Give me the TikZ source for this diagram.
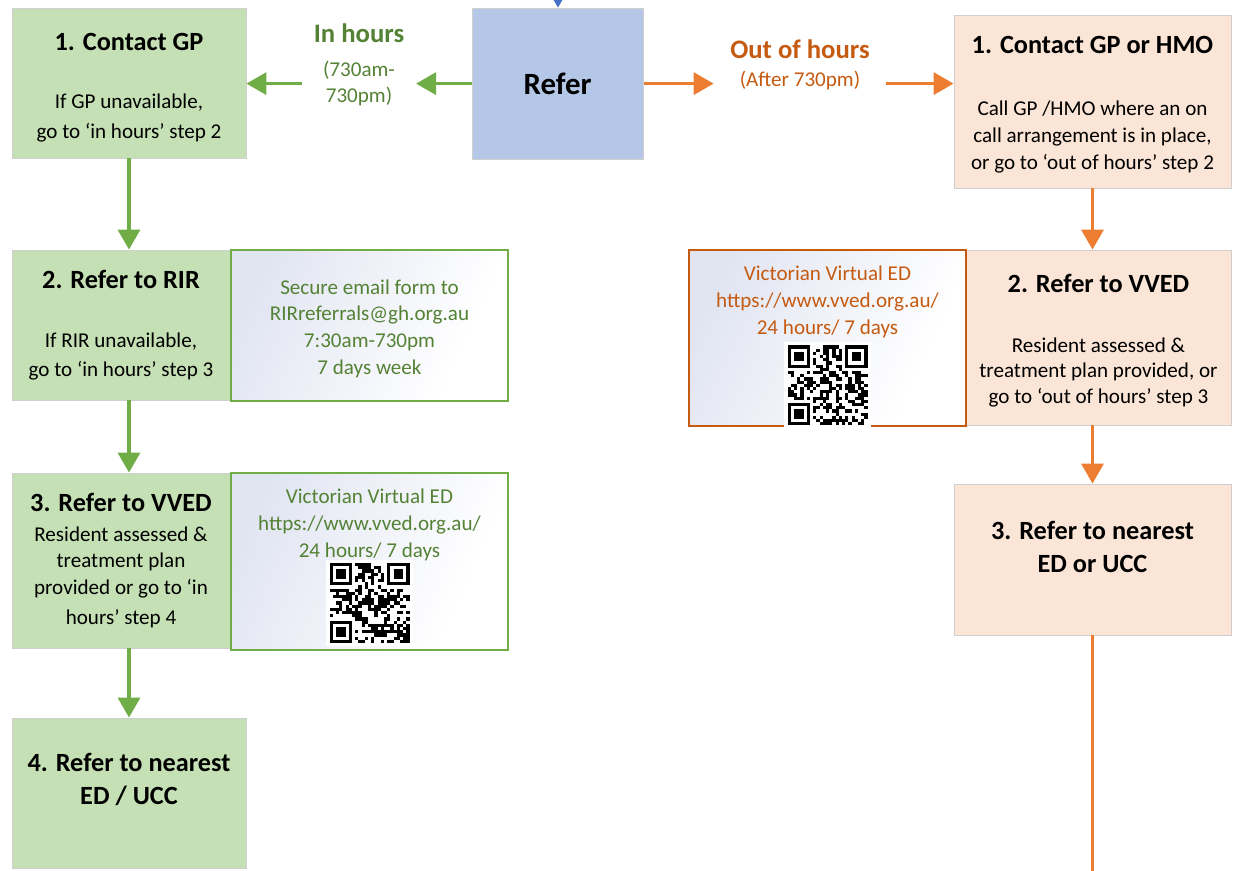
\documentclass[tikz,border=0pt]{standalone}
\usepackage{fontspec}
\setmainfont{Carlito}
\usetikzlibrary{positioning,arrows.meta}

\definecolor{greenfill}{HTML}{C5E0B4}
\definecolor{orangefill}{HTML}{FBE5D6}
\definecolor{bluefill}{HTML}{B4C7E7}
\definecolor{greenline}{HTML}{70AD47}
\definecolor{orangeline}{HTML}{ED7D31}
\definecolor{bluearrow}{HTML}{4472C4}
\definecolor{greentext}{HTML}{548235}
\definecolor{orangetext}{HTML}{C55A11}
\definecolor{boxline}{HTML}{D0CECE}
\definecolor{infoshade}{HTML}{E1E5F2}

\pgfdeclarehorizontalshading{infoshading}{100bp}{color(0bp)=(infoshade); color(25bp)=(infoshade); color(70bp)=(white); color(100bp)=(white)}

\newcommand{\bodyfont}{\fontsize{15}{19}\selectfont}
\newcommand{\headfont}{\fontsize{18.7}{22}\selectfont\bfseries}

% fake QR patch, #1 = centre coordinate, #2 = seed
\newcommand{\qrpatch}[2]{%
  \begin{scope}[shift={(#1)}, x=0.08cm, y=0.08cm, shift={(-12.5,-12.5)}]
    \fill[white] (-1,-1) rectangle (26,26);
    \pgfmathsetseed{#2}
    \foreach \qi in {0,...,24}{
      \foreach \qj in {0,...,24}{
        \pgfmathrandominteger{\qbit}{0}{1}
        \ifnum\qbit=1 \fill (\qi,\qj) rectangle ++(1,1); \fi
      }
    }
    % finder squares
    \foreach \cx/\cy/\sx/\sy in {0/18/0/17, 18/18/17/17, 0/0/0/0}{
      \fill[white] (\sx,\sy) rectangle ++(8,8);
      \fill (\cx,\cy) rectangle ++(7,7);
      \fill[white] (\cx+1,\cy+1) rectangle ++(5,5);
      \fill (\cx+2,\cy+2) rectangle ++(3,3);
    }
  \end{scope}}

\tikzset{
  flowbox/.style={draw=boxline, line width=0.6pt, align=center, inner sep=2pt, font=\bodyfont},
  gbox/.style={flowbox, fill=greenfill},
  obox/.style={flowbox, fill=orangefill},
  infobox/.style={line width=1.4pt, shading=infoshading, shading angle=-25, align=center, inner sep=0pt, font=\bodyfont},
  ginfo/.style={infobox, draw=greenline, text=greentext},
  oinfo/.style={infobox, draw=orangetext, text=orangetext},
  infotext/.style={align=center, inner sep=0pt, font=\bodyfont},
  flowarrow/.style={line width=2.4pt, -{Triangle[length=0.5cm, width=0.55cm]}},
  garrow/.style={flowarrow, draw=greenline},
  oarrow/.style={flowarrow, draw=orangeline},
}

\begin{document}
\begin{tikzpicture}
    \useasboundingbox (0,0) rectangle (31.05,-21.75);

    % Refer box and the arrow coming in from above
    \node[flowbox, fill=bluefill, minimum width=4.275cm, minimum height=3.775cm,
          font=\fontsize{22}{26}\selectfont\bfseries] (refer) at (13.94,-2.09) {Refer};
    \coordinate (topin) at (13.95,1);
    \draw[flowarrow, draw=bluearrow] (topin) -- (refer.north -| topin);

    % In hours column
    \node[gbox, minimum width=5.85cm, minimum height=3.75cm] (gp) at (3.225,-2.075)
        {\mbox{}\\[0pt] {\headfont 1. Contact GP}\\[22pt] If GP unavailable,\\[2.5pt] go to ‘in hours’ step 2};
    \node[gbox, minimum width=5.45cm, minimum height=3.75cm] (rir) at (3.025,-8.125)
        {{\headfont 2. Refer to RIR}\\[23.5pt] If RIR unavailable,\\[1.5pt] go to ‘in hours’ step 3};
    \node[gbox, minimum width=5.45cm, minimum height=4.375cm] (vved) at (3.025,-14.0125)
        {{\headfont 3. Refer to VVED}\\[2pt] Resident assessed \&\\ treatment plan\\ provided or go to ‘in\\[2pt] hours’ step 4};
    \node[gbox, minimum width=5.85cm, minimum height=3.75cm, font=\fontsize{18.7}{23.5}\selectfont\bfseries] (nearest) at (3.225,-19.825)
        {4. Refer to nearest\\ ED / UCC\\[-11pt] \strut};

    % side boxes, in hours
    \node[ginfo, minimum width=6.925cm, minimum height=3.775cm] (rirmail) at (9.2375,-8.1375)
        {\mbox{}\\[-4.3pt] Secure email form to\\ RIRreferrals@gh.org.au\\ 7:30am-730pm\\ 7 days week};
    \node[ginfo, minimum width=6.925cm, minimum height=4.425cm] (vvedinfo) at (9.2375,-14.0375) {};
    \node[infotext, text=greentext, below=0.42cm of vvedinfo.north] (vvedtxt)
        {Victorian Virtual ED\\ https://www.vved.org.au/\\ 24 hours/ 7 days};
    \coordinate (vvedqr) at ([yshift=1.2cm]vvedinfo.south);
    \qrpatch{vvedqr}{7}

    % In hours label and arrows
    \node[align=center, inner xsep=0.29cm, inner ysep=0pt, text=greentext, font=\bodyfont] (inlbl) at (8.975,-1.62)
        {{\fontsize{19}{22}\selectfont\bfseries In hours}\\[5pt] (730am-\\[-0.5pt] 730pm)};
    \draw[garrow] (refer.west) -- (refer.west -| inlbl.east);
    \draw[garrow] (refer.west -| inlbl.west) -- (refer.west -| gp.east);
    \draw[garrow] (gp.south) -- (gp.south |- rir.north);
    \draw[garrow] (gp.south |- rir.south) -- (gp.south |- vved.north);
    \draw[garrow] (gp.south |- vved.south) -- (gp.south |- nearest.north);

    % Out of hours column
    \node[obox, minimum width=6.925cm, minimum height=4.325cm] (ooh1) at (27.3125,-2.5375)
        {\mbox{}\\[-2pt] {\headfont 1. Contact GP or HMO}\\[25pt] Call GP /HMO where an on\\[0.5pt] call arrangement is in place,\\[0.5pt] or go to ‘out of hours’ step 2};
    \node[obox, minimum width=6.625cm, minimum height=4.375cm] (ooh2) at (27.4625,-8.4375)
        {\mbox{}\\[-2pt] {\headfont 2. Refer to VVED}\\[24pt] Resident assessed \&\\[-1pt] treatment plan provided, or\\[-1pt] go to ‘out of hours’ step 3};
    \node[obox, minimum width=6.925cm, minimum height=3.775cm, font=\fontsize{18.7}{23.5}\selectfont\bfseries] (ooh3) at (27.3125,-13.9875)
        {3. Refer to nearest\\ ED or UCC\\[-13pt] \strut};

    % side box, out of hours
    \node[oinfo, minimum width=6.925cm, minimum height=4.4cm] (oohinfo) at (20.6875,-8.45) {};
    \node[infotext, text=orangetext, below=0.42cm of oohinfo.north] (oohtxt)
        {Victorian Virtual ED\\ https://www.vved.org.au/\\ 24 hours/ 7 days};
    \coordinate (oohqr) at ([yshift=1.04cm]oohinfo.south);
    \qrpatch{oohqr}{11}

    % Out of hours label and arrows
    \node[align=center, inner xsep=0.41cm, inner ysep=0pt, text=orangetext, font=\bodyfont] (oohlbl) at (20.0,-1.62)
        {{\fontsize{19}{22}\selectfont\bfseries Out of hours}\\[1.5pt] (After 730pm)};
    \draw[oarrow] (refer.east) -- (refer.east -| oohlbl.west);
    \draw[oarrow] (refer.east -| oohlbl.east) -- (refer.east -| ooh1.west);
    \draw[oarrow] (ooh1.south) -- (ooh1.south |- ooh2.north);
    \draw[oarrow] (ooh1.south |- ooh2.south) -- (ooh1.south |- ooh3.north);
    \coordinate (oohend) at (27.32,-22.5);
    \draw[line width=2.4pt, draw=orangeline] (ooh3.south) -- (ooh3.south |- oohend);

\end{tikzpicture}
\end{document}
